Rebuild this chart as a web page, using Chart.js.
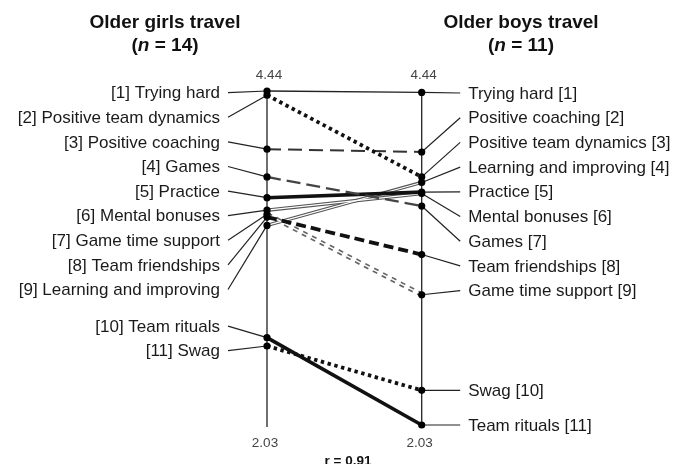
<!DOCTYPE html>
<html><head><meta charset="utf-8">
<script src="https://cdn.jsdelivr.net/npm/chart.js@4.4.0/dist/chart.umd.min.js"></script>
<style>html,body{margin:0;padding:0;background:#fff;overflow:hidden}#wrap{width:673px;height:464px;position:relative}</style>
</head><body><div id="wrap"><canvas id="c" width="673" height="464"></canvas></div>
<script>
// ---- data ----
const items = ['Trying hard','Positive team dynamics','Positive coaching','Games','Practice','Mental bonuses','Game time support','Team friendships','Learning and improving','Team rituals','Swag'];
const girlsRank = [1,2,3,4,5,6,7,8,9,10,11];
const boysRank  = [1,3,2,7,5,6,9,8,4,11,10];
const girlsMean = [4.44,4.41,4.02,3.82,3.67,3.58,3.55,3.53,3.47,2.66,2.60];
const boysMean  = [4.43,3.82,4.00,3.61,3.71,3.70,2.97,3.26,3.78,2.03,2.28];
const axisTicks = [2.03, 4.44];
const groupTitles = ['Older girls travel','Older boys travel'];
const groupN = [14, 11];
const rValue = 0.91;

// ---- styles ----
const lineStyle = ['thin','dotted','dashed','dashedGray','thick','double','doubleDotted','thickDashed','double','thick','dotted'];
const styleDefs = {
  thin:        {color:'#222', width:1.3, dash:[]},
  dotted:      {color:'#111', width:3.8, dash:[3.4,3.6]},
  dashed:      {color:'#333', width:2,   dash:[14,7]},
  dashedGray:  {color:'#444', width:2.3, dash:[14,6]},
  thick:       {color:'#111', width:3.6, dash:[]},
  double:      {color:'#555', width:3.4, dash:[], overlay:{color:'#fff', width:1.2, dash:[]}},
  doubleDotted:{color:'#666', width:4.8, dash:[5,5], overlay:{color:'#fff', width:1.4, dash:[]}},
  thickDashed: {color:'#111', width:3.8, dash:[10,5]}
};
const FONT = '"Liberation Sans", Arial, Helvetica, sans-serif';

const datasets = [];
items.forEach((name,i)=>{
  const s = styleDefs[lineStyle[i]];
  const pts = [{x:0,y:girlsMean[i]},{x:1,y:boysMean[i]}];
  datasets.push({label:name, data:pts, showLine:true, borderColor:s.color, borderWidth:s.width,
    borderDash:s.dash, borderCapStyle:'butt', pointRadius:0, clip:false, order:s.overlay?10:8});
  if (s.overlay) {
    datasets.push({label:name+' inner', data:pts, showLine:true, borderColor:s.overlay.color,
      borderWidth:s.overlay.width, borderDash:s.overlay.dash, pointRadius:0, clip:false, order:9});
  }
});
const allPts = [];
items.forEach((n,i)=>{ allPts.push({x:0,y:girlsMean[i]}); allPts.push({x:1,y:boysMean[i]}); });
datasets.push({label:'points', data:allPts, showLine:false, pointRadius:3.6, pointHoverRadius:3.6,
  pointBackgroundColor:'#000', pointBorderWidth:0, clip:false, order:0});

const decor = {
  id:'decor',
  beforeDatasetsDraw(chart){
    const {ctx, chartArea:a, scales:{x,y}} = chart;
    const xl = x.getPixelForValue(0), xr = x.getPixelForValue(1);
    const yTop = y.getPixelForValue(axisTicks[1]), yBot = y.getPixelForValue(axisTicks[0]);
    const line=(x1,y1,x2,y2)=>{ctx.beginPath();ctx.moveTo(x1,y1);ctx.lineTo(x2,y2);ctx.stroke();};
    ctx.save();
    ctx.strokeStyle='#222'; ctx.lineWidth=1.3; ctx.setLineDash([]);
    line(xl, yTop-3, xl, yBot+2);
    line(xr, yTop+1, xr, yBot);
    ctx.font = `17px ${FONT}`; ctx.fillStyle='#1a1a1a'; ctx.textBaseline='middle';
    items.forEach((name,i)=>{
      const gr = girlsRank[i], br = boysRank[i];
      const dyL = y.getPixelForValue(girlsMean[i]);
      const dyR = y.getPixelForValue(boysMean[i]);
      const ly = a.top + 1.7 + (gr-1)*24.6 + (gr>=10?12:0);
      const ry = br>=10 ? dyR : a.top + 2 + (br-1)*24.7;
      ctx.strokeStyle='#222'; ctx.lineWidth=1.2;
      line(xl-39, ly, xl, dyL);
      line(xr, dyR, xr+38.5, ry);
      ctx.textAlign='right'; ctx.fillText(`[${gr}] ${name}`, xl-47, ly+1);
      ctx.textAlign='left';  ctx.fillText(`${name} [${br}]`, xr+46.5, ry+1);
    });
    // axis value labels
    ctx.font = `13.5px ${FONT}`; ctx.fillStyle='#444'; ctx.textAlign='center';
    [xl, xr].forEach(px=>{
      ctx.fillText(axisTicks[1].toFixed(2), px+2, yTop-16);
      ctx.fillText(axisTicks[0].toFixed(2), px-2, yBot+18);
    });
    // titles
    ctx.fillStyle='#111';
    const centers=[165, 521];
    groupTitles.forEach((t,k)=>{
      ctx.font = `bold 19px ${FONT}`; ctx.textAlign='center';
      ctx.fillText(t, centers[k], 23);
      const p1='(', p3=` = ${groupN[k]})`;
      ctx.font = `bold 19px ${FONT}`; const w1=ctx.measureText(p1).width, w3=ctx.measureText(p3).width;
      ctx.font = `italic bold 19px ${FONT}`; const w2=ctx.measureText('n').width;
      let sx = centers[k]-(w1+w2+w3)/2; ctx.textAlign='left';
      ctx.font = `bold 19px ${FONT}`; ctx.fillText(p1, sx, 46);
      ctx.font = `italic bold 19px ${FONT}`; ctx.fillText('n', sx+w1, 46);
      ctx.font = `bold 19px ${FONT}`; ctx.fillText(p3, sx+w1+w2, 46);
    });
    ctx.font = `bold 13.5px ${FONT}`; ctx.textAlign='center';
    ctx.fillText(`r = ${rValue.toFixed(2)}`, 348, 461);
    ctx.restore();
  }
};

new Chart(document.getElementById('c'), {
  type:'scatter',
  data:{datasets},
  options:{
    responsive:false, animation:false, events:[],
    layout:{padding:{left:267, right:251.3, top:91, bottom:39}},
    scales:{
      x:{type:'linear', min:0, max:1, display:false},
      y:{type:'linear', min:axisTicks[0], max:axisTicks[1], display:false}
    },
    plugins:{legend:{display:false}, tooltip:{enabled:false}, title:{display:false}}
  },
  plugins:[decor]
});
</script></body></html>
